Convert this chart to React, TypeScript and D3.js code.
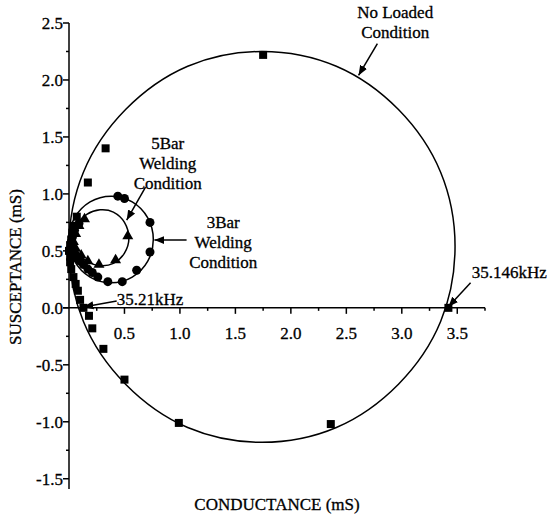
import * as d3 from 'd3';

type Pt = [number, number];

// No loaded condition: measured points (squares) and traced circle
const noLoadPoints: Pt[] = [
  [1.75, 2.22], [0.33, 1.40], [0.17, 1.10], [0.07, 0.80], [0.04, 0.72],
  [0.03, 0.66], [0.02, 0.60], [0.01, 0.55], [0.0, 0.50], [0.01, 0.45],
  [0.01, 0.40], [0.02, 0.34], [0.04, 0.27], [0.06, 0.21], [0.08, 0.15],
  [0.10, 0.07], [0.13, 0.0], [0.18, -0.07], [0.21, -0.18], [0.31, -0.36],
  [0.50, -0.63], [0.99, -1.01], [2.36, -1.02], [3.42, 0.0],
];
const noLoadCurve: Pt[] = [
  [3.48, 0.54], [3.35, 1.19], [2.97, 1.74], [2.41, 2.12], [1.74, 2.25],
  [1.07, 2.12], [0.51, 1.74], [0.13, 1.19], [0.0, 0.54], [0.13, -0.12],
  [0.51, -0.67], [1.07, -1.05], [1.74, -1.18], [2.41, -1.05], [2.97, -0.67],
  [3.35, -0.12],
];

// 3Bar welding condition (circles)
const bar3Points: Pt[] = [
  [0.44, 0.98], [0.50, 0.96], [0.73, 0.75], [0.73, 0.49], [0.61, 0.33],
  [0.48, 0.23], [0.35, 0.23], [0.26, 0.27], [0.21, 0.31], [0.17, 0.34],
  [0.13, 0.38], [0.10, 0.41], [0.07, 0.44], [0.05, 0.47], [0.03, 0.50],
  [0.02, 0.54], [0.02, 0.58], [0.03, 0.62], [0.05, 0.68], [0.09, 0.74],
];
const bar3Curve: Pt[] = [
  [0.76, 0.60], [0.71, 0.79], [0.57, 0.93], [0.38, 0.98], [0.19, 0.93],
  [0.05, 0.79], [0.0, 0.60], [0.05, 0.41], [0.19, 0.27], [0.38, 0.22],
  [0.57, 0.27], [0.71, 0.41],
];

// 5Bar welding condition (triangles)
const bar5Points: Pt[] = [
  [0.53, 0.63], [0.42, 0.42], [0.27, 0.38], [0.17, 0.41], [0.11, 0.46],
  [0.06, 0.52], [0.04, 0.58], [0.06, 0.65], [0.09, 0.72], [0.14, 0.78],
];
const bar5Curve: Pt[] = [
  [0.54, 0.61], [0.50, 0.75], [0.40, 0.84], [0.28, 0.86], [0.16, 0.82],
  [0.07, 0.73], [0.03, 0.61], [0.08, 0.49], [0.16, 0.41], [0.28, 0.37],
  [0.40, 0.39], [0.50, 0.48],
];

const xTicks = [0.5, 1.0, 1.5, 2.0, 2.5, 3.0, 3.5];
const xMinor = [0.25, 0.75, 1.25, 1.75, 2.25, 2.75, 3.25, 3.75];
const yTicks = [-1.5, -1.0, -0.5, 0.0, 0.5, 1.0, 1.5, 2.0, 2.5];
const yMinor = [-1.25, -0.75, -0.25, 0.25, 0.75, 1.25, 1.75, 2.25];

// annotations: text lines, anchor (data units), arrow from -> to (data units)
const annotations = [
  { lines: ['No Loaded', 'Condition'], at: [2.94, 2.544], anchor: 'middle', from: [2.78, 2.32], to: [2.61, 2.04] },
  { lines: ['5Bar', 'Welding', 'Condition'], at: [0.89, 1.39], anchor: 'middle', from: [0.69, 1.06], to: [0.52, 0.77] },
  { lines: ['3Bar', 'Welding', 'Condition'], at: [1.39, 0.70], anchor: 'middle', from: [1.06, 0.595], to: [0.77, 0.595] },
  { lines: ['35.146kHz'], at: [3.63, 0.26], anchor: 'start', from: [3.62, 0.22], to: [3.42, 0.01] },
  { lines: ['35.21kHz'], at: [0.43, 0.025], anchor: 'start', from: [0.43, 0.06], to: [0.13, 0.007] },
];

const W = 550;
const H = 515;
const FONT = 'Liberation Serif';
const FS = 17;

export default function App() {
  const x = d3.scaleLinear().domain([0, 3.75]).range([69, 485]);
  const y = d3.scaleLinear().domain([-1.59, 2.5]).range([489, 23]);
  const x0 = x(0);
  const y0 = y(0);
  const fmt = d3.format('.1f');

  const line = d3
    .line<Pt>()
    .x((d) => x(d[0]))
    .y((d) => y(d[1]))
    .curve(d3.curveCardinalClosed.tension(0));

  const tri = d3.symbol().type(d3.symbolTriangle).size(52)() || '';

  return (
    <svg
      width={W}
      height={H}
      fontFamily={FONT}
      fontSize={FS}
      stroke="none"
      style={{ position: 'absolute', left: 0, top: 0, background: '#fff' }}
    >
      <defs>
        <marker
          id="arrow"
          viewBox="0 0 10 10"
          refX={10}
          refY={5}
          markerWidth={10}
          markerHeight={10}
          markerUnits="userSpaceOnUse"
          orient="auto"
        >
          <path d="M0,1 L10,5 L0,9 Z" fill="#000" />
        </marker>
      </defs>

      {/* x axis */}
      <line x1={x0 - 6} x2={x(3.75)} y1={y0} y2={y0} stroke="#000" strokeWidth={1.5} />
      {xMinor.map((t) => (
        <line key={'xm' + t} x1={x(t)} x2={x(t)} y1={y0} y2={y0 + 3} stroke="#000" strokeWidth={1.5} />
      ))}
      {xTicks.map((t) => (
        <g key={'x' + t}>
          <line x1={x(t)} x2={x(t)} y1={y0} y2={y0 + 6} stroke="#000" strokeWidth={1.5} />
          <text x={x(t)} y={y0 + 31} textAnchor="middle" stroke="#000" strokeWidth={0.3}>{fmt(t)}</text>
        </g>
      ))}

      {/* y axis */}
      <line x1={x0} x2={x0} y1={y(2.5)} y2={y(-1.59)} stroke="#000" strokeWidth={1.5} />
      {yMinor.map((t) => (
        <line key={'ym' + t} x1={x0 - 3} x2={x0} y1={y(t)} y2={y(t)} stroke="#000" strokeWidth={1.5} />
      ))}
      {yTicks.map((t) => (
        <g key={'y' + t}>
          <line x1={x0 - 6} x2={x0} y1={y(t)} y2={y(t)} stroke="#000" strokeWidth={1.5} />
          <text x={x0 - 6} y={y(t) + 6} textAnchor="end" stroke="#000" strokeWidth={0.3}>
            {fmt(t).replace('−', '-')}
          </text>
        </g>
      ))}

      {/* curves */}
      {[noLoadCurve, bar3Curve, bar5Curve].map((c, i) => (
        <path key={'c' + i} d={line(c) || ''} fill="none" stroke="#000" strokeWidth={1.5} />
      ))}

      {/* markers */}
      {noLoadPoints.map((d, i) => (
        <rect key={'s' + i} x={x(d[0]) - 4} y={y(d[1]) - 4} width={8} height={8} fill="#000" />
      ))}
      {bar3Points.map((d, i) => (
        <circle key={'o' + i} cx={x(d[0])} cy={y(d[1])} r={4.5} fill="#000" />
      ))}
      {bar5Points.map((d, i) => (
        <path key={'t' + i} d={tri} transform={`translate(${x(d[0])},${y(d[1])})`} fill="#000" />
      ))}

      {/* annotations */}
      {annotations.map((a, k) => (
        <g key={'a' + k}>
          <text textAnchor={a.anchor} stroke="#000" strokeWidth={0.3}>
            {a.lines.map((s, i) => (
              <tspan key={i} x={x(a.at[0])} y={y(a.at[1]) + i * 20}>{s}</tspan>
            ))}
          </text>
          <line
            x1={x(a.from[0])}
            y1={y(a.from[1])}
            x2={x(a.to[0])}
            y2={y(a.to[1])}
            stroke="#000"
            strokeWidth={1.5}
            markerEnd="url(#arrow)"
          />
        </g>
      ))}

      {/* axis titles */}
      <text x={277} y={510} textAnchor="middle" stroke="#000" strokeWidth={0.3}>CONDUCTANCE (mS)</text>
      <text transform="translate(21,267) rotate(-90)" textAnchor="middle" stroke="#000" strokeWidth={0.3}>
        SUSCEPTANCE (mS)
      </text>
    </svg>
  );
}
